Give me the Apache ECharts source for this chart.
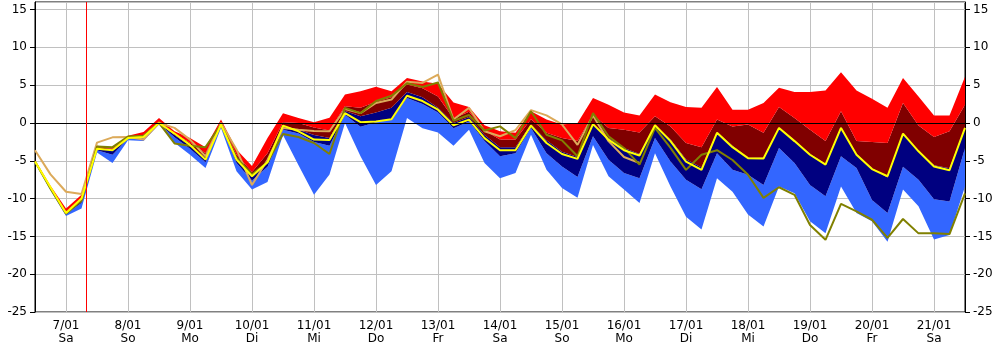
<!DOCTYPE html>
<html>
<head>
<meta charset="utf-8">
<script src="https://cdn.jsdelivr.net/npm/echarts@6/dist/echarts.min.js"></script>
<style>html,body{margin:0;padding:0;background:#fff;}#c{width:1000px;height:350px;}</style>
</head>
<body>
<div id="c"></div>
<script>
// 6-hourly steps starting 6/01 12:00 (61 points); first day label at index 2
const dayLabels = ['7/01','8/01','9/01','10/01','11/01','12/01','13/01','14/01','15/01','16/01','17/01','18/01','19/01','20/01','21/01'];
const weekdayLabels = ['Sa','So','Mo','Di','Mi','Do','Fr','Sa','So','Mo','Di','Mi','Do','Fr','Sa'];
const yTicks = [-25,-20,-15,-10,-5,0,5,10,15];

const maxT = [-4.9,-8.3,-11.3,-9.5,-3.0,-3.2,-1.7,-1.2,0.65,-1.1,-2.0,-3.2,0.45,-3.5,-5.7,-2.0,
  1.3,0.65,0.1,0.7,3.75,4.2,4.8,4.2,5.95,5.5,5.2,2.7,2.1,-0.3,-1.1,-1.3,1.55,0.45,-0.2,0.0,
  3.3,2.4,1.4,1.0,3.75,2.75,2.1,2.0,4.75,1.75,1.75,2.65,4.65,4.1,4.1,4.3,6.7,4.3,3.2,2.0,5.95,3.5,1.0,1.0,6.1];
const q75T = [-5.0,-8.5,-11.7,-9.9,-3.2,-3.4,-1.9,-1.6,0.2,-1.4,-2.6,-4.0,0.1,-4.2,-6.5,-4.0,
  0.1,0.0,-0.6,-1.0,2.2,2.0,2.8,3.4,5.1,4.6,3.5,0.6,1.5,-1.0,-2.2,-2.2,0.5,-1.3,-2.0,-2.4,
  1.1,-0.65,-0.9,-1.25,0.9,-0.45,-2.65,-3.2,0.45,-0.45,-0.2,-1.3,2.1,0.65,-0.9,-2.4,1.55,-2.4,-2.5,-2.65,2.65,-0.35,-1.85,-1.1,2.4];
const medT = [-5.1,-8.6,-11.9,-10.2,-3.4,-3.6,-2.0,-1.8,0.0,-1.6,-3.0,-4.6,-0.1,-4.7,-7.0,-5.0,
  -0.4,-0.9,-1.6,-2.0,1.6,0.9,1.4,2.0,4.1,3.4,2.0,0.0,0.8,-1.6,-3.2,-3.2,-0.2,-2.3,-3.8,-4.5,
  -0.1,-2.0,-3.3,-4.1,-0.3,-2.2,-4.8,-5.9,-1.2,-3.0,-4.6,-4.6,-0.6,-2.3,-4.1,-5.4,-0.6,-4.1,-6.0,-7.2,-1.4,-3.7,-5.6,-6.0,-0.6];
const q25T = [-5.2,-8.7,-12.0,-10.6,-3.6,-4.2,-2.1,-2.0,-0.1,-1.9,-3.4,-5.2,-0.3,-5.3,-7.6,-5.8,
  -0.9,-1.4,-2.5,-3.0,1.1,-0.5,0.1,0.5,3.3,2.5,1.4,-0.7,0.2,-2.4,-4.4,-4.0,-0.65,-4.0,-5.75,-7.15,
  -1.75,-4.85,-6.6,-7.3,-2.0,-5.1,-7.5,-8.75,-4.0,-6.2,-6.85,-8.2,-3.3,-5.3,-8.2,-9.7,-4.4,-5.95,-10.2,-11.9,-5.8,-7.5,-10.1,-10.4,-3.3];
const minT = [-5.3,-8.9,-12.3,-11.3,-3.9,-5.3,-2.3,-2.4,-0.2,-2.6,-4.2,-5.95,-0.65,-6.4,-8.8,-7.8,
  -1.6,-5.6,-9.5,-6.8,0.0,-4.4,-8.2,-6.4,0.65,-0.7,-1.25,-3.0,-0.9,-5.3,-7.3,-6.6,-1.55,-6.2,-8.6,-9.9,
  -2.9,-7.05,-8.8,-10.6,-4.0,-8.4,-12.4,-14.1,-7.3,-9.1,-12.1,-13.7,-8.4,-9.3,-13.0,-14.6,-8.4,-11.9,-13.0,-15.7,-8.8,-11.0,-15.4,-14.8,-8.4];
const meanT = [-5.1,-8.5,-11.9,-10.0,-3.4,-3.6,-2.0,-1.85,0.0,-1.4,-2.9,-4.85,-0.2,-4.85,-7.05,-5.2,
  -0.35,-1.1,-2.2,-2.25,1.3,0.1,0.2,0.5,3.6,2.9,1.75,-0.3,0.45,-2.0,-3.6,-3.6,-0.35,-2.65,-4.1,-4.75,
  -0.15,-2.2,-3.6,-4.3,-0.3,-2.4,-5.1,-6.2,-1.3,-3.2,-4.65,-4.7,-0.65,-2.4,-4.2,-5.5,-0.65,-4.2,-6.1,-7.05,-1.4,-3.75,-5.75,-6.25,-0.65];
const controlT = [-5.1,-8.7,-12.0,-10.3,-3.1,-3.2,-1.8,-1.7,0.0,-2.7,-3.0,-3.2,-0.2,-4.6,-6.8,-5.2,
  -1.45,-1.85,-2.65,-4.1,2.0,1.3,2.9,3.6,5.25,4.75,5.35,0.3,1.05,-1.0,-0.45,-2.0,1.55,-1.55,-2.3,-4.4,
  1.3,-1.75,-3.3,-5.5,-0.65,-3.3,-6.2,-4.2,-3.6,-4.9,-6.85,-9.9,-8.5,-9.5,-13.5,-15.45,-10.7,-11.7,-12.8,-15.2,-12.7,-14.6,-14.6,-14.7,-9.3];
const operT = [-3.6,-6.8,-9.1,-9.4,-2.6,-1.9,-1.85,-2.2,0.0,-0.65,-2.2,-4.4,0.0,-3.5,-8.2,-4.9,
  -0.65,-0.9,-1.05,-1.1,1.85,1.3,2.65,3.1,5.45,5.3,6.4,0.45,2.0,-1.1,-1.75,-0.95,1.7,1.0,-0.2,-2.9,
  1.0,-2.4,-4.5,-5.3];

const redLineAt = 3.333; // 7/01 08:00 in 6-hour steps from start

const cats = maxT.map((_, i) => String(i));
const isDay = (i) => (i - 2) % 4 === 0 && i >= 2;
const diff = (a, b) => a.map((v, i) => +(v - b[i]).toFixed(3));

const font = 'DejaVu Sans';
const bandBase = { type: 'line', stack: 'band', stackStrategy: 'all', symbol: 'none', silent: true,
  lineStyle: { width: 0, opacity: 0 }, emphasis: { disabled: true } };

const yAxisCommon = {
  type: 'value', min: -25, max: 16, interval: 5,
  axisLine: { show: true, lineStyle: { color: '#000', width: 1 } },
  axisTick: { show: true, length: 5, lineStyle: { color: '#000' } },
  axisLabel: { color: '#000', fontFamily: font, fontSize: 12, margin: 8, showMaxLabel: false },
};

const option = {
  animation: false,
  backgroundColor: '#fff',
  grid: { left: 35, right: 35, top: 2, bottom: 38, show: true, borderColor: '#000', borderWidth: 1, backgroundColor: '#fff' },
  xAxis: [{
    type: 'category', data: cats, boundaryGap: false,
    axisLine: { show: true, lineStyle: { color: '#000' } },
    axisTick: { show: true, interval: (i) => isDay(i), length: 4, lineStyle: { color: '#c0c0c0' } },
    axisLabel: { interval: (i) => isDay(i), color: '#000', fontFamily: font, fontSize: 12, lineHeight: 13, margin: 7,
      formatter: (v, i) => { const k = (i - 2) / 4; return dayLabels[k] + '\n' + weekdayLabels[k]; } },
    splitLine: { show: true, interval: (i) => isDay(i), lineStyle: { color: '#c0c0c0', width: 1 } }
  }, {
    type: 'value', min: 0, max: cats.length - 1, show: false
  }],
  yAxis: [
    Object.assign({}, yAxisCommon, { position: 'left', splitLine: { show: true, lineStyle: { color: '#c0c0c0', width: 1 } } }),
    Object.assign({}, yAxisCommon, { position: 'right', splitLine: { show: false } })
  ],
  series: [
    Object.assign({}, bandBase, { name: 'base', data: minT }),
    Object.assign({}, bandBase, { name: 'b1', data: diff(q25T, minT), areaStyle: { color: '#3366ff', opacity: 1 } }),
    Object.assign({}, bandBase, { name: 'b2', data: diff(medT, q25T), areaStyle: { color: '#000080', opacity: 1 } }),
    Object.assign({}, bandBase, { name: 'b3', data: diff(q75T, medT), areaStyle: { color: '#800000', opacity: 1 } }),
    Object.assign({}, bandBase, { name: 'b4', data: diff(maxT, q75T), areaStyle: { color: '#ff0000', opacity: 1 } }),
    { type: 'line', name: 'oper', data: operT, symbol: 'none', silent: true, lineStyle: { color: '#dcaa5a', width: 2 } },
    { type: 'line', name: 'control', data: controlT, symbol: 'none', silent: true, lineStyle: { color: '#808000', width: 2 } },
    { type: 'line', name: 'mean', data: meanT, symbol: 'none', silent: true, lineStyle: { color: '#ffff00', width: 2 } },
    { type: 'line', name: 'zero', data: [], silent: true, z: 5,
      markLine: { silent: true, symbol: 'none', label: { show: false }, animation: false,
        lineStyle: { color: '#000', width: 1, type: 'solid' }, data: [{ yAxis: 0 }] } },
    { type: 'line', name: 'now', xAxisIndex: 1, data: [], silent: true, z: 6,
      markLine: { silent: true, symbol: 'none', label: { show: false }, animation: false,
        lineStyle: { color: '#ff0000', width: 1, type: 'solid' }, data: [{ xAxis: redLineAt }] } }
  ]
};

const chart = echarts.init(document.getElementById('c'), null, { renderer: 'canvas' });
chart.setOption(option);
</script>
</body>
</html>
